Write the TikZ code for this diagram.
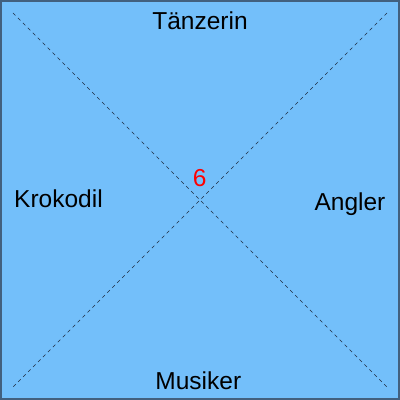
\documentclass[tikz,border=0pt]{standalone}
\usepackage{fontspec}
\setmainfont{Liberation Sans}
\usetikzlibrary{positioning}

\definecolor{feldblau}{RGB}{115,191,250}
\definecolor{randblau}{RGB}{66,96,126}
\definecolor{linienblau}{RGB}{30,45,65}

\begin{document}
\begin{tikzpicture}[
  x=1pt, y=1pt,
  feld/.style={draw=randblau, fill=feldblau, line width=2.4pt},
  diag/.style={draw=linienblau, line width=0.7pt, dash pattern=on 3.5pt off 3.5pt},
  beschr/.style={font=\fontsize{24.5}{27}\selectfont, text=black, inner sep=0pt, anchor=base},
  zahl/.style={font=\fontsize{24.5}{27}\selectfont, text=red, inner sep=0pt, anchor=base}
]
\useasboundingbox (0,0) rectangle (400,400);

% Spielfeld
\draw[feld] (1.2,1.2) rectangle (398.8,398.8);

% Ecken fuer die Diagonalen
\coordinate (ol) at (13,387);
\coordinate (or) at (387,387);
\coordinate (ul) at (13,13);
\coordinate (ur) at (387,13);

\draw[diag] (ol) -- (ur);
\draw[diag] (or) -- (ul);

% Beschriftungen
\node[beschr] (oben) at (200,370.7) {Tänzerin};
\node[beschr] (links) at (58.5,192) {Krokodil};
\node[beschr] (rechts) at (350,189) {Angler};
\node[beschr] (unten) at (198.3,10.7) {Musiker};
\node[zahl] (mitte) at (199.8,213.3) {6};

\end{tikzpicture}
\end{document}
